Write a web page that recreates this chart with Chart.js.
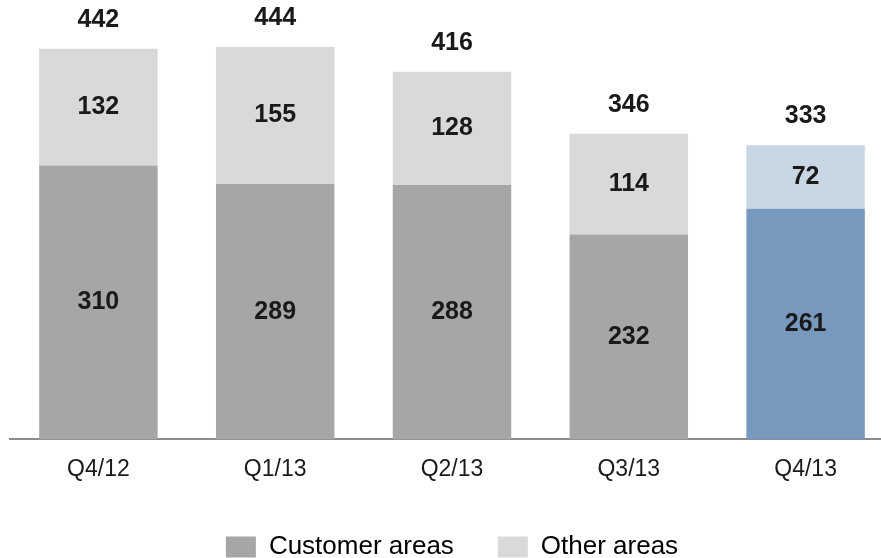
<!DOCTYPE html>
<html>
<head>
<meta charset="utf-8">
<script src="https://cdn.jsdelivr.net/npm/chart.js@4/dist/chart.umd.min.js"></script>
<style>
  html, body { margin: 0; padding: 0; background: #fff; overflow: hidden; }
  #wrap { position: relative; width: 894px; height: 570px; }
</style>
</head>
<body>
<div id="wrap"><canvas id="areasChart"></canvas></div>
<script>
const quarters = ["Q4/12", "Q1/13", "Q2/13", "Q3/13", "Q4/13"];
const customerAreas = [310, 289, 288, 232, 261];
const otherAreas = [132, 155, 128, 114, 72];

const customerColors = ["#a6a6a6", "#a6a6a6", "#a6a6a6", "#a6a6a6", "#7799bd"];
const otherColors = ["#d9d9d9", "#d9d9d9", "#d9d9d9", "#d9d9d9", "#c9d7e5"];
const legendColors = ["#a6a6a6", "#d9d9d9"];

const FONT = "'Liberation Sans', Arial, sans-serif";

// values inside each segment plus the stack total above each bar
const valueLabels = {
    id: "valueLabels",
    afterDatasetsDraw(chart) {
        const ctx = chart.ctx;
        ctx.save();
        ctx.font = "bold 25px " + FONT;
        ctx.fillStyle = "#1a1a1a";
        ctx.textAlign = "center";
        ctx.textBaseline = "middle";
        chart.data.datasets.forEach((ds, i) => {
            chart.getDatasetMeta(i).data.forEach((bar, j) => {
                const mid = (bar.y + bar.base) / 2;
                ctx.fillText(ds.data[j], bar.x, mid);
            });
        });
        const top = chart.getDatasetMeta(chart.data.datasets.length - 1).data;
        top.forEach((bar, j) => {
            const total = chart.data.datasets.reduce((s, ds) => s + ds.data[j], 0);
            ctx.fillText(total, bar.x, bar.y - 29);
        });
        ctx.restore();
    },
};

new Chart(document.getElementById("areasChart"), {
    type: "bar",
    data: {
        labels: quarters,
        datasets: [
            {
                label: "Customer areas",
                data: customerAreas,
                backgroundColor: customerColors,
            },
            {
                label: "Other areas",
                data: otherAreas,
                backgroundColor: otherColors,
            },
        ],
    },
    options: {
        responsive: true,
        maintainAspectRatio: false,
        animation: false,
        barPercentage: 0.67,
        categoryPercentage: 1,
        layout: {
            padding: { top: 2, left: 10, right: 0, bottom: 0 },
        },
        plugins: {
            legend: {
                position: "bottom",
                labels: {
                    font: { size: 26, family: FONT },
                    color: "#1a1a1a",
                    boxWidth: 30,
                    boxHeight: 21,
                    padding: 44,
                    generateLabels: (chart) =>
                        chart.data.datasets.map((ds, i) => ({
                            text: ds.label,
                            fillStyle: legendColors[i],
                            strokeStyle: legendColors[i],
                            lineWidth: 0,
                            datasetIndex: i,
                        })),
                },
            },
            tooltip: { enabled: false },
        },
        scales: {
            x: {
                stacked: true,
                grid: { display: false, drawTicks: false },
                border: { color: "#8c8c8c", width: 2 },
                ticks: {
                    color: "#1a1a1a",
                    font: { size: 23, family: FONT },
                    padding: 16,
                },
                afterFit: (scale) => { scale.height -= 9; },
            },
            y: {
                stacked: true,
                display: false,
                min: 0,
                max: 495,
            },
        },
    },
    plugins: [valueLabels],
});
</script>
</body>
</html>
